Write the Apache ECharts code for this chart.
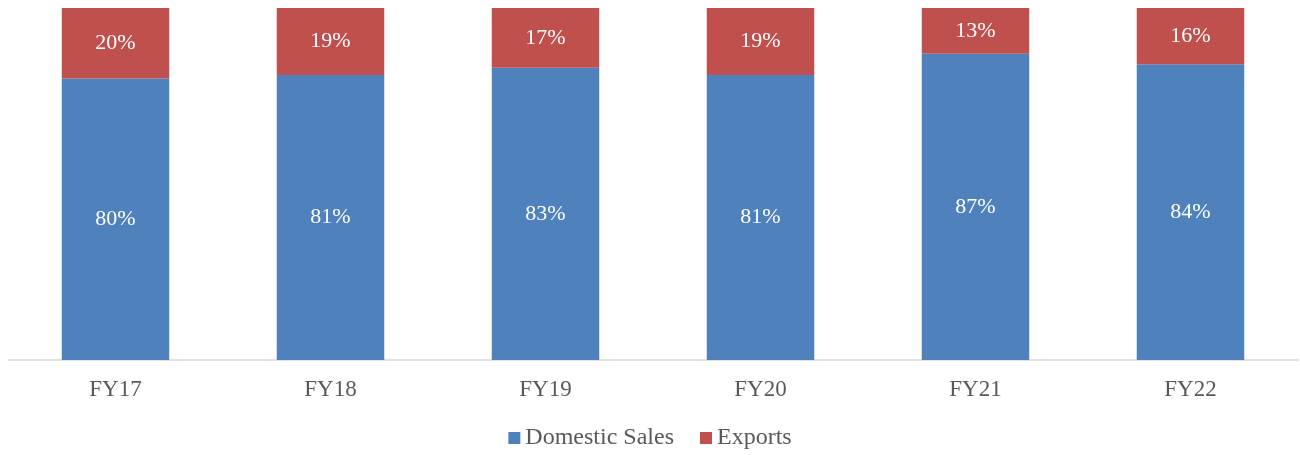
<!DOCTYPE html>
<html>
<head>
<meta charset="utf-8">
<script src="https://cdn.jsdelivr.net/npm/echarts@6/dist/echarts.min.js"></script>
<style>
html, body { margin: 0; padding: 0; background: #fff; }
#chart { width: 1300px; height: 455px; }
</style>
</head>
<body>
<div id="chart"></div>
<script>
var categories = ['FY17', 'FY18', 'FY19', 'FY20', 'FY21', 'FY22'];
var domesticSales = [80, 81, 83, 81, 87, 84];
var exportsShare = [20, 19, 17, 19, 13, 16];

var myChart = echarts.init(document.getElementById('chart'));
var labelStyle = {
    show: true,
    position: 'inside',
    color: '#fff',
    fontSize: 22,
    fontFamily: 'Liberation Serif',
    formatter: '{c}%'
};
var option = {
    animation: false,
    grid: { left: 8, right: 2, top: 8, bottom: 95 },
    legend: {
        bottom: 0,
        left: 'center',
        itemWidth: 12,
        itemHeight: 12,
        itemGap: 26,
        icon: 'rect',
        textStyle: { color: '#595959', fontSize: 24, fontFamily: 'Liberation Serif' },
        data: ['Domestic Sales', 'Exports']
    },
    xAxis: {
        type: 'category',
        data: categories,
        axisLine: { lineStyle: { color: '#d9d9d9', width: 1.5 } },
        axisTick: { show: false },
        axisLabel: { color: '#595959', fontSize: 23, fontFamily: 'Liberation Serif', margin: 18 }
    },
    yAxis: {
        type: 'value',
        min: 0,
        max: 100,
        show: false,
        splitLine: { show: false }
    },
    series: [
        {
            name: 'Domestic Sales',
            type: 'bar',
            stack: 'total',
            barWidth: '50%',
            data: domesticSales,
            itemStyle: { color: '#4f81bd' },
            label: labelStyle
        },
        {
            name: 'Exports',
            type: 'bar',
            stack: 'total',
            barWidth: '50%',
            data: exportsShare,
            itemStyle: { color: '#c0504d' },
            label: labelStyle
        }
    ]
};
myChart.setOption(option);
window.addEventListener('resize', function () {
    myChart.resize();
});
</script>
</body>
</html>
